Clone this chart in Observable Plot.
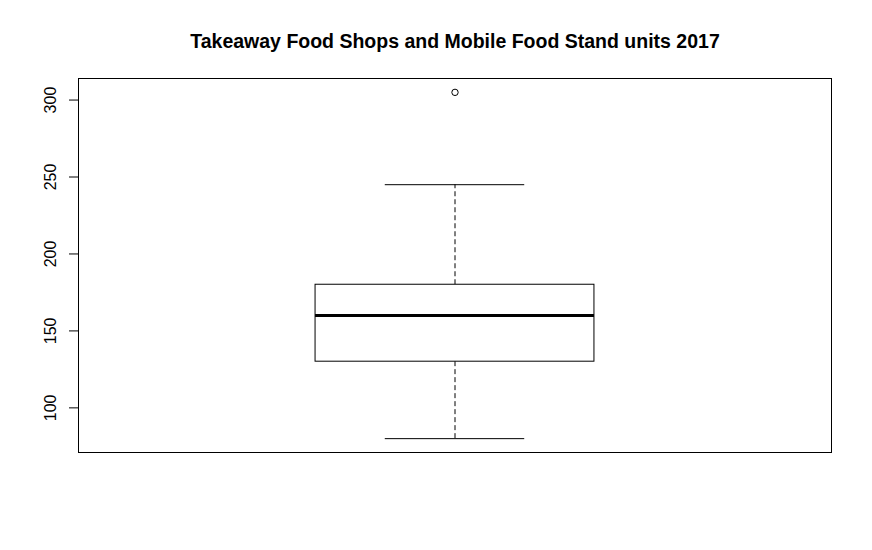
<!DOCTYPE html>
<html>
<head>
<meta charset="utf-8">
<script src="https://cdn.jsdelivr.net/npm/d3@7"></script>
<script src="https://cdn.jsdelivr.net/npm/@observablehq/plot@0.6"></script>
<style>
  html, body { margin: 0; padding: 0; background: #fff; }
  #chart svg { display: block; }
</style>
</head>
<body>
<div id="chart"></div>
<script>
const title = "Takeaway Food Shops and Mobile Food Stand units 2017";
const groups = [1];
const whiskerLow = [80];
const q1 = [130];
const median = [160];
const q3 = [180];
const whiskerHigh = [245];
const outliers = [305];
const yTicks = [100, 150, 200, 250, 300];

const boxes = groups.map((g, i) => ({
  x: g, lo: whiskerLow[i], q1: q1[i], med: median[i], q3: q3[i], hi: whiskerHigh[i]
}));
const outs = outliers.map(v => ({x: groups[0], v}));

const dataMin = d3.min([...whiskerLow, ...outliers]);
const dataMax = d3.max([...whiskerHigh, ...outliers]);
const pad = (dataMax - dataMin) * 0.04;

const chart = Plot.plot({
  width: 872,
  height: 550,
  marginLeft: 78,
  marginRight: 41,
  marginTop: 78,
  marginBottom: 98,
  style: {fontFamily: "'Liberation Sans', Arial, sans-serif", background: "#fff", color: "#000"},
  x: {domain: [0.46, 1.54], axis: null},
  y: {domain: [dataMin - pad, dataMax + pad]},
  marks: [
    Plot.frame({stroke: "black"}),
    Plot.axisY({ticks: yTicks, tickSize: 9, fill: "none", label: null, stroke: "black"}),
    Plot.text(yTicks, {y: d => d, text: d => String(d), frameAnchor: "left", dx: -28, rotate: -90,
      textAnchor: "middle", lineAnchor: "middle", fontSize: 16, fill: "black"}),
    Plot.ruleX(boxes, {x: "x", y1: "q3", y2: "hi", stroke: "black", strokeDasharray: "5,3"}),
    Plot.ruleX(boxes, {x: "x", y1: "lo", y2: "q1", stroke: "black", strokeDasharray: "5,3"}),
    Plot.ruleY(boxes, {y: "hi", x1: d => d.x - 0.1, x2: d => d.x + 0.1, stroke: "black"}),
    Plot.ruleY(boxes, {y: "lo", x1: d => d.x - 0.1, x2: d => d.x + 0.1, stroke: "black"}),
    Plot.rect(boxes, {x1: d => d.x - 0.2, x2: d => d.x + 0.2, y1: "q1", y2: "q3", fill: "white", stroke: "black"}),
    Plot.ruleY(boxes, {y: "med", x1: d => d.x - 0.2, x2: d => d.x + 0.2, stroke: "black", strokeWidth: 3}),
    Plot.dot(outs, {x: "x", y: "v", r: 3.2, stroke: "black", strokeWidth: 1, fill: "none"}),
    Plot.text([title], {frameAnchor: "top", dy: -31, lineAnchor: "bottom", fontSize: 19.5,
      fontWeight: "bold", fill: "black", text: d => d})
  ]
});
document.getElementById("chart").appendChild(chart);
</script>
</body>
</html>
